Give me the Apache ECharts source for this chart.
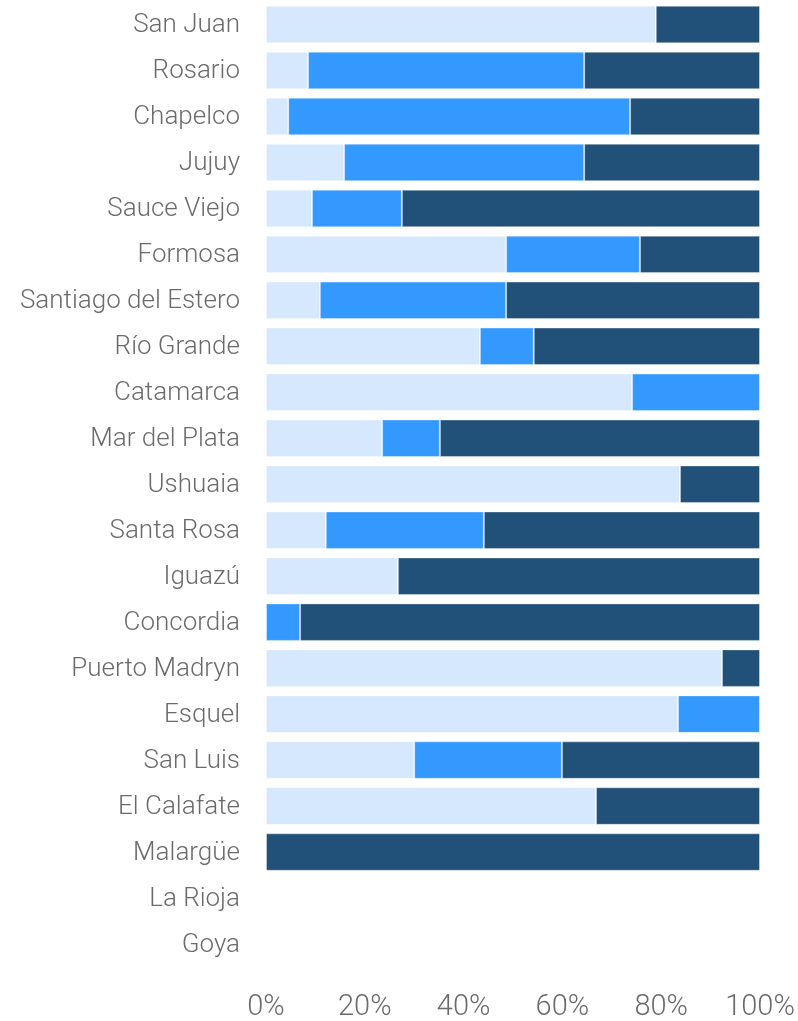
<!DOCTYPE html>
<html>
<head>
<meta charset="utf-8">
<script src="https://cdn.jsdelivr.net/npm/echarts@6/dist/echarts.min.js"></script>
<style>
html,body{margin:0;padding:0;background:#fff;}
#chart{width:798px;height:1021px;}
</style>
</head>
<body>
<div id="chart"></div>
<script>
const categories = ["San Juan","Rosario","Chapelco","Jujuy","Sauce Viejo","Formosa","Santiago del Estero","Río Grande","Catamarca","Mar del Plata","Ushuaia","Santa Rosa","Iguazú","Concordia","Puerto Madryn","Esquel","San Luis","El Calafate","Malargüe","La Rioja","Goya"];
const lightValues  = [78.9, 8.5, 4.5, 15.8, 9.3, 48.6, 10.9, 43.3, 74.1, 23.5, 83.8, 12.1, 26.7, 0, 92.3, 83.4, 30.0, 66.8, 0, 0, 0];
const mediumValues = [0, 55.9, 69.2, 48.6, 18.2, 27.1, 37.7, 10.9, 25.9, 11.7, 0, 32.0, 0, 6.9, 0, 16.6, 29.9, 0, 0, 0, 0];
const darkValues   = [21.1, 35.6, 26.3, 35.6, 72.5, 24.3, 51.4, 45.8, 0, 64.8, 16.2, 55.9, 73.3, 93.1, 7.7, 0, 40.1, 33.2, 100, 0, 0];
const xTicks = [0, 20, 40, 60, 80, 100];

const chart = echarts.init(document.getElementById('chart'));
const border = {borderColor:'rgba(255,255,255,0.35)', borderWidth:1};
const font = '"Roboto Light", Roboto';
chart.setOption({
  animation:false,
  grid:{left:266, right:38, top:1.5, bottom:52.5},
  xAxis:{
    type:'value', min:0, max:100, interval:20,
    axisLine:{show:false}, axisTick:{show:false}, splitLine:{show:false},
    axisLabel:{formatter: v => xTicks.includes(v) ? v + '%' : '', color:'#6a6a6a', fontFamily:font, fontWeight:300, fontSize:29, margin:25}
  },
  yAxis:{
    type:'category', data:categories, inverse:true,
    axisLine:{show:false}, axisTick:{show:false}, splitLine:{show:false},
    axisLabel:{color:'#6a6a6a', fontFamily:font, fontWeight:300, fontSize:26, margin:26, padding:[0,0,6,0]}
  },
  series:[
    {type:'bar', stack:'a', data:lightValues, barCategoryGap:'18.5%', itemStyle:Object.assign({color:'#d5e8fd'}, border)},
    {type:'bar', stack:'a', data:mediumValues, itemStyle:Object.assign({color:'#3399ff'}, border)},
    {type:'bar', stack:'a', data:darkValues, itemStyle:Object.assign({color:'#215078'}, border)}
  ]
});
</script>
</body>
</html>
